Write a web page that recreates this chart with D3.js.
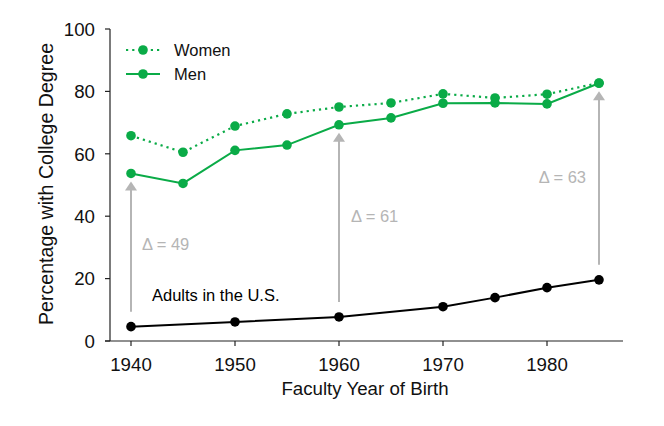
<!DOCTYPE html>
<html>
<head>
<meta charset="utf-8">
<script src="https://cdn.jsdelivr.net/npm/d3@7"></script>
<style>
  html, body { margin: 0; padding: 0; background: #fff; }
  svg { display: block; font-family: "Liberation Sans", Arial, Helvetica, sans-serif; }
</style>
</head>
<body>
<svg id="chart" width="664" height="426"></svg>
<script>
// ---- data ----
const years = [1940, 1945, 1950, 1955, 1960, 1965, 1970, 1975, 1980, 1985];
const women = [65.8, 60.5, 68.9, 72.8, 75.0, 76.3, 79.2, 77.9, 79.1, 82.7];
const men   = [53.7, 50.5, 61.1, 62.8, 69.3, 71.5, 76.2, 76.3, 76.0, 82.6];
const adultYears = [1940, 1950, 1960, 1970, 1975, 1980, 1985];
const adults     = [4.6, 6.1, 7.7, 11.0, 13.9, 17.1, 19.6];
const deltaYears = [1940, 1960, 1985];
const deltaLabels = ["Δ = 49", "Δ = 61", "Δ = 63"];
const xTicks = [1940, 1950, 1960, 1970, 1980];
const yTicks = [0, 20, 40, 60, 80, 100];

// ---- layout ----
const svg = d3.select("#chart");
const green = "#0aab47";
const grey = "#b5b5b5";
const axisColor = "#222";

const x = d3.scaleLinear().domain([1940, 1980]).range([131, 547]);
const y = d3.scaleLinear().domain([0, 100]).range([341, 29]);

// axes
const xAxis = svg.append("g").attr("transform", "translate(0,341)");
xAxis.append("line").attr("x1", 105).attr("x2", 623).attr("y1", 0).attr("y2", 0)
  .attr("stroke", axisColor).attr("stroke-width", 1.2);
xAxis.selectAll("line.tick").data(xTicks).join("line").attr("class", "tick")
  .attr("x1", d => x(d)).attr("x2", d => x(d)).attr("y1", 0).attr("y2", 5)
  .attr("stroke", axisColor).attr("stroke-width", 1.2);
xAxis.selectAll("text").data(xTicks).join("text")
  .attr("x", d => x(d)).attr("y", 30).attr("text-anchor", "middle")
  .attr("font-size", 18.7).attr("fill", "#111").text(d => d);

const yAxis = svg.append("g").attr("transform", "translate(110,0)");
yAxis.append("line").attr("x1", 0).attr("x2", 0).attr("y1", y(100)).attr("y2", y(0))
  .attr("stroke", axisColor).attr("stroke-width", 1.2);
yAxis.selectAll("line.tick").data(yTicks).join("line").attr("class", "tick")
  .attr("x1", -5).attr("x2", 0).attr("y1", d => y(d)).attr("y2", d => y(d))
  .attr("stroke", axisColor).attr("stroke-width", 1.2);
yAxis.selectAll("text").data(yTicks).join("text")
  .attr("x", -15).attr("y", d => y(d)).attr("dy", "0.36em").attr("text-anchor", "end")
  .attr("font-size", 18.7).attr("fill", "#111").text(d => d);

svg.append("text").attr("x", 365).attr("y", 395).attr("text-anchor", "middle")
  .attr("font-size", 18.7).attr("fill", "#111").text("Faculty Year of Birth");
svg.append("text").attr("transform", "translate(53,184) rotate(-90)")
  .attr("text-anchor", "middle").attr("font-size", 19.6).attr("fill", "#111")
  .text("Percentage with College Degree");

// arrows
const menByYear = new Map(years.map((yr, i) => [yr, men[i]]));
const adultByYear = new Map(adultYears.map((yr, i) => [yr, adults[i]]));
const arrows = svg.append("g");
deltaYears.forEach(yr => {
  const xp = x(yr);
  const yBottom = y(adultByYear.get(yr)) - 15;
  const yTip = y(menByYear.get(yr)) + 8;
  arrows.append("line").attr("x1", xp).attr("x2", xp).attr("y1", yBottom).attr("y2", yTip + 8)
    .attr("stroke", grey).attr("stroke-width", 2);
  arrows.append("path")
    .attr("d", `M${xp},${yTip} L${xp - 6},${yTip + 9} L${xp + 6},${yTip + 9} Z`)
    .attr("fill", grey);
});

// delta labels
const labelPos = [
  {dx: 11, val: 31, anchor: "start"},
  {dx: 12, val: 40.2, anchor: "start"},
  {dx: -13, val: 52.7, anchor: "end"}
];
deltaYears.forEach((yr, i) => {
  svg.append("text").attr("x", x(yr) + labelPos[i].dx).attr("y", y(labelPos[i].val))
    .attr("dy", "0.36em").attr("text-anchor", labelPos[i].anchor)
    .attr("font-size", 16.5).attr("fill", grey).text(deltaLabels[i]);
});

// lines
const line = d3.line().x(d => x(d[0])).y(d => y(d[1]));
const womenPts = years.map((yr, i) => [yr, women[i]]);
const menPts = years.map((yr, i) => [yr, men[i]]);
const adultPts = adultYears.map((yr, i) => [yr, adults[i]]);

svg.append("path").attr("d", line(adultPts)).attr("fill", "none")
  .attr("stroke", "#000").attr("stroke-width", 2);
svg.append("path").attr("d", line(womenPts)).attr("fill", "none")
  .attr("stroke", green).attr("stroke-width", 2.2).attr("stroke-dasharray", "2.2,4");
svg.append("path").attr("d", line(menPts)).attr("fill", "none")
  .attr("stroke", green).attr("stroke-width", 2);

svg.append("g").selectAll("circle").data(womenPts).join("circle")
  .attr("cx", d => x(d[0])).attr("cy", d => y(d[1])).attr("r", 4.8).attr("fill", green);
svg.append("g").selectAll("circle").data(menPts).join("circle")
  .attr("cx", d => x(d[0])).attr("cy", d => y(d[1])).attr("r", 4.8).attr("fill", green);
svg.append("g").selectAll("circle").data(adultPts).join("circle")
  .attr("cx", d => x(d[0])).attr("cy", d => y(d[1])).attr("r", 4.8).attr("fill", "#000");

svg.append("text").attr("x", 152).attr("y", 301).attr("font-size", 16.5)
  .attr("fill", "#000").text("Adults in the U.S.");

// legend
const legend = svg.append("g");
const legendItems = [
  {label: "Women", dash: "2.2,4", yPos: 50},
  {label: "Men", dash: null, yPos: 74}
];
legendItems.forEach(it => {
  legend.append("line").attr("x1", 126).attr("x2", 160).attr("y1", it.yPos).attr("y2", it.yPos)
    .attr("stroke", green).attr("stroke-width", 2.2)
    .attr("stroke-dasharray", it.dash);
  legend.append("circle").attr("cx", 143).attr("cy", it.yPos).attr("r", 4.8).attr("fill", green);
  legend.append("text").attr("x", 174).attr("y", it.yPos).attr("dy", "0.36em")
    .attr("font-size", 16.5).attr("fill", "#111").text(it.label);
});
</script>
</body>
</html>
